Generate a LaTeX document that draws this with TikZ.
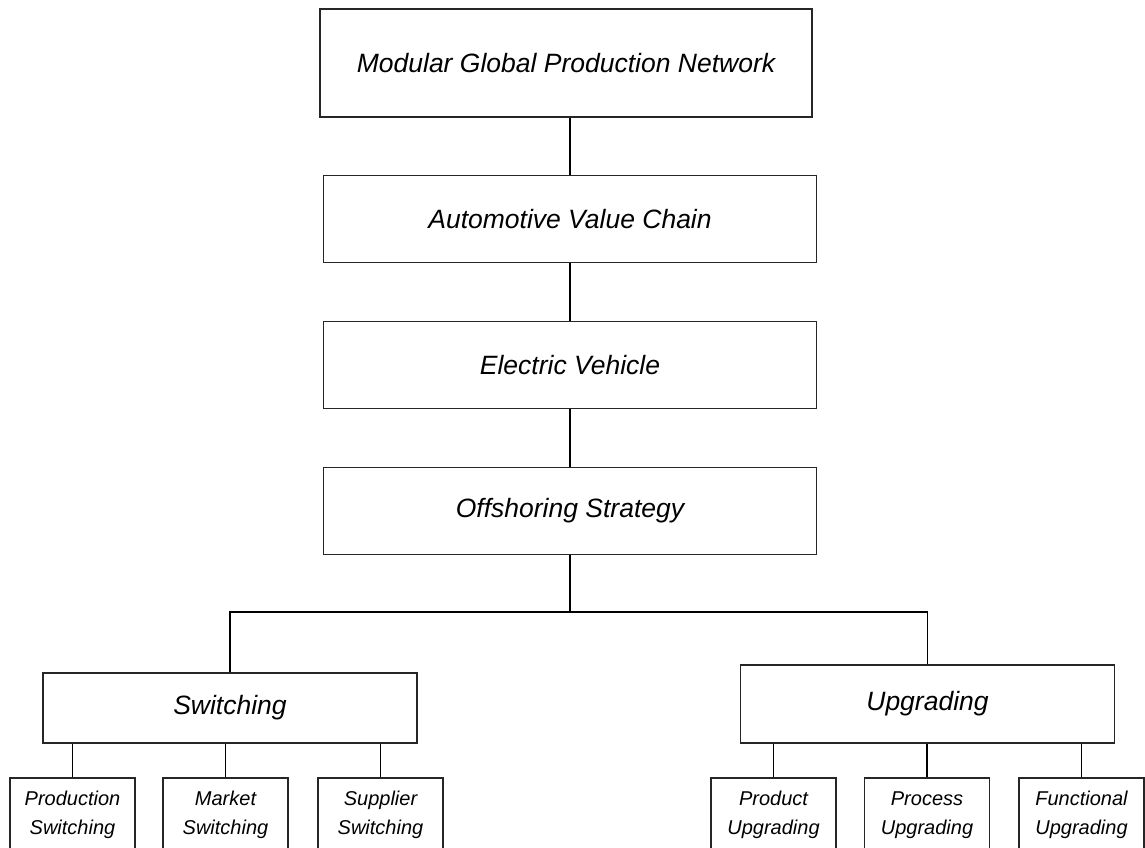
\documentclass[tikz,border=0pt]{standalone}
\usepackage{fontspec}
\setmainfont{Liberation Sans}
\usepackage{tikz}

\tikzset{
    box/.style={draw=black!85, line width=1.7pt, rectangle, inner sep=0pt,
        minimum width=493pt, minimum height=87pt,
        font=\fontsize{26.5}{30}\selectfont\itshape},
    branch/.style={box, minimum width=374pt, minimum height=70pt},
    leaf/.style={draw=black!85, line width=1.6pt, rectangle, inner sep=0pt,
        minimum width=125pt, minimum height=74pt, align=center,
        font=\fontsize{20}{28.5}\selectfont\itshape},
    link/.style={draw=black, line width=1.8pt}
}

\begin{document}
\begin{tikzpicture}[node distance=146pt]
        \useasboundingbox (0,0) rectangle (1145pt,-847pt);
        \clip (0,0) rectangle (1145pt,-847pt);

        % main chain
        \node (network) [box, minimum height=108pt, minimum width=492pt] at (566pt,-63pt) {Modular Global Production Network};
        \node (chain) [box, below of=network, yshift=-10pt, xshift=4pt] {Automotive Value Chain};
        \node (ev) [box, below of=chain] {Electric Vehicle};
        \node (offshore) [box, below of=ev] {Offshoring Strategy};

        % two strategies
        \node (switch) [branch] at (230pt,-708pt) {Switching};
        \node (upgrade) [branch, minimum height=78pt] at (927.5pt,-704pt) {Upgrading};

        % switching types
        \node (prodsw) [leaf, below of=switch, node distance=107pt, xshift=-157.5pt] {Production\\Switching};
        \node (marketsw) [leaf, below of=switch, node distance=107pt, xshift=-4.5pt] {Market\\Switching};
        \node (suppliersw) [leaf, below of=switch, node distance=107pt, xshift=150.5pt] {Supplier\\Switching};

        % upgrading types
        \node (produp) [leaf, below of=upgrade, node distance=111pt, xshift=-154pt] {Product\\Upgrading};
        \node (procup) [leaf, below of=upgrade, node distance=111pt, xshift=-0.5pt] {Process\\Upgrading};
        \node (funcup) [leaf, below of=upgrade, node distance=111pt, xshift=154pt] {Functional\\Upgrading};

        \draw[link] (chain.north |- network.south) -- (chain.north);
        \draw[link] (chain) -- (ev);
        \draw[link] (ev) -- (offshore);
        \draw[link] (offshore.south) -- ++(0,-57pt) coordinate (fork);
        \draw[link] (switch.north) |- (fork) -| (upgrade.north);

        \foreach \kid in {prodsw, marketsw, suppliersw}
            \draw[link] (\kid.north) -- (\kid.north |- switch.south);
        \foreach \kid in {produp, procup, funcup}
            \draw[link] (\kid.north) -- (\kid.north |- upgrade.south);
    \end{tikzpicture}
\end{document}
